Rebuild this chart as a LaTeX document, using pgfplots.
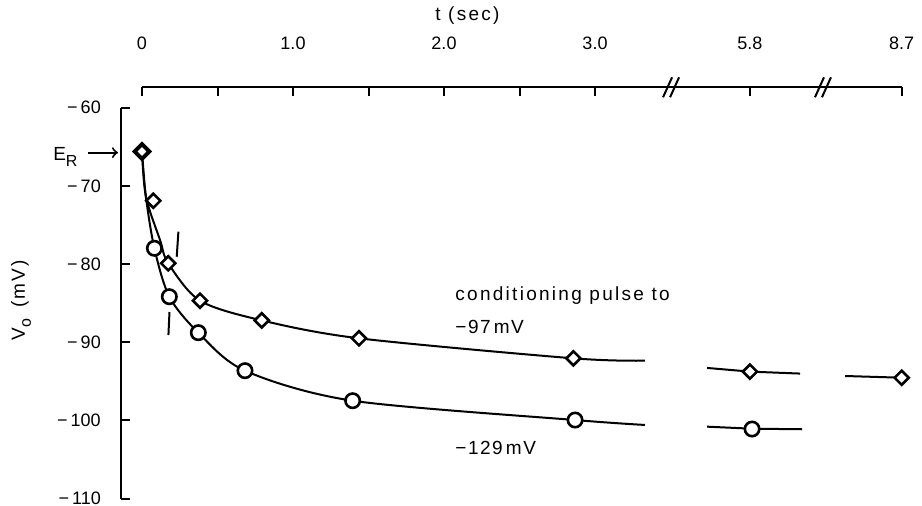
\documentclass[border=0pt]{standalone}
\usepackage{fontspec}
\setmainfont{Liberation Sans}
\newfontfamily\spaced[LetterSpace=12]{Liberation Sans}
\newfontfamily\spacedb[LetterSpace=8]{Liberation Sans}
\usepackage{pgfplots}
\pgfplotsset{compat=1.18}
% x positions: 0..3 s linear; 5.8 s drawn at 4.026, 8.7 s drawn at 5.031 (broken axis)
\newcommand{\mn}{−\hspace{1.5pt}}
\begin{document}
\fontsize{9.5}{11}\selectfont
\begin{tikzpicture}
\begin{axis}[
 x=75.5pt, y=3.91pt,
 xmin=-0.141, xmax=5.031, ymin=-110, ymax=-57.39,
 axis line style={draw=none},
 clip=false,
 xtick pos=upper, xticklabel pos=upper, ytick pos=left,
 tick align=inside,
 major tick length=4.5pt,
 major tick style={black, line width=1pt},
 xtick={0,0.5,1,1.5,2,2.5,3,4.026,5.031},
 xticklabels={0,,1.0,,2.0,,3.0,5.8,8.7},
 ytick={-110,-100,-90,-80,-70,-60},
 yticklabels={\mn110,\mn100,\mn90,\mn80,\mn70,\mn60},
 xticklabel style={yshift=15.5pt},
 yticklabel style={xshift=-6.6pt},
 tick label style={font=\fontsize{9}{10}\selectfont},
]
% axis lines
\draw[line width=1pt] (axis cs:0,-57.39) -- (axis cs:5.031,-57.39);
\draw[line width=1pt] (axis cs:-0.141,-60) -- (axis cs:-0.141,-110);
% breaks
\draw[line width=1pt] ([shift={(-5pt,-5pt)}]axis cs:3.517,-57.39) -- ++(4.5pt,10pt);
\draw[line width=1pt] ([shift={(-1.5pt,-5pt)}]axis cs:3.517,-57.39) -- ++(4.5pt,10pt);
\draw[line width=1pt] ([shift={(-5pt,-5pt)}]axis cs:4.523,-57.39) -- ++(4.5pt,10pt);
\draw[line width=1pt] ([shift={(-1.5pt,-5pt)}]axis cs:4.523,-57.39) -- ++(4.5pt,10pt);
% fitted curves
\addplot[smooth, black, line width=1pt] coordinates {
 (0,-65.6) (0.026,-71.4) (0.119,-76.9) (0.174,-79.9) (0.384,-84.68) (0.793,-87.2)
 (1.437,-89.49) (2.857,-92.05) (3.331,-92.35)};
\addplot[black, line width=1pt] coordinates {(3.742,-93.28) (4.026,-93.75) (4.358,-94.0)};
\addplot[black, line width=1pt] coordinates {(4.656,-94.31) (5.031,-94.53)};
\addplot[smooth, black, line width=1pt] coordinates {
 (0,-65.6) (0.026,-71.4) (0.082,-77.98) (0.181,-84.17) (0.373,-88.77) (0.682,-93.63)
 (1.395,-97.47) (2.868,-99.94) (3.331,-100.57)};
\addplot[black, line width=1pt] coordinates {(3.742,-100.79) (4.04,-101.05) (4.371,-101.12)};
% markers
\addplot[only marks, mark=*, mark size=3.6pt, mark options={fill=white, draw=black, line width=1.3pt}] coordinates {
 (0.082,-77.98) (0.181,-84.17) (0.373,-88.77) (0.682,-93.63) (1.395,-97.47) (2.868,-99.94) (4.04,-101.09)};
\addplot[only marks, mark=square*, mark size=2.5pt, mark options={rotate=45, fill=white, draw=black, line width=1.3pt}] coordinates {
 (0.075,-71.9) (0.174,-79.9) (0.384,-84.68) (0.793,-87.2) (1.437,-89.49) (2.857,-92.05) (4.026,-93.75) (5.031,-94.53)};
\addplot[only marks, mark=square*, mark size=2.6pt, mark options={rotate=45, fill=white, draw=black, line width=2pt}] coordinates {(0,-65.6)};
% small vertical marks
\draw[line width=1pt] (axis cs:0.241,-75.86) -- (axis cs:0.23,-79.06);
\draw[line width=1pt] (axis cs:0.182,-86.13) -- (axis cs:0.175,-89.07);
% E_R arrow
\draw[line width=1pt, ->] (axis cs:-0.358,-65.75) -- (axis cs:-0.159,-65.75);
\node[anchor=base west, inner sep=0pt] at (axis cs:-0.59,-66.69) {E\raisebox{-0.6ex}{\fontsize{8}{9}\selectfont R}};
% labels
\node[anchor=base, rotate=90, inner sep=0pt] at (axis cs:-0.775,-84.6) {{\spaced V}\raisebox{-0.6ex}{\fontsize{8}{9}\selectfont o}\,{\spaced\ (mV)}};
\node[anchor=base west, inner sep=0pt] at (axis cs:1.94,-48.87) {\spaced t (sec)};
\node[anchor=base west, inner sep=0pt] at (axis cs:2.073,-84.68) {\spaced conditioning pulse to};
\node[anchor=base west, inner sep=0pt] at (axis cs:2.073,-88.85) {\spacedb −97\,mV};
\node[anchor=base west, inner sep=0pt] at (axis cs:2.073,-104.4) {\spacedb −129\,mV};
\coordinate (bl) at (axis cs:-0.9404,-110.93);
\coordinate (tr) at (axis cs:5.1656,-46.23);
\end{axis}
\pgfresetboundingbox
\path[use as bounding box] (bl) rectangle (tr);
\end{tikzpicture}
\end{document}
